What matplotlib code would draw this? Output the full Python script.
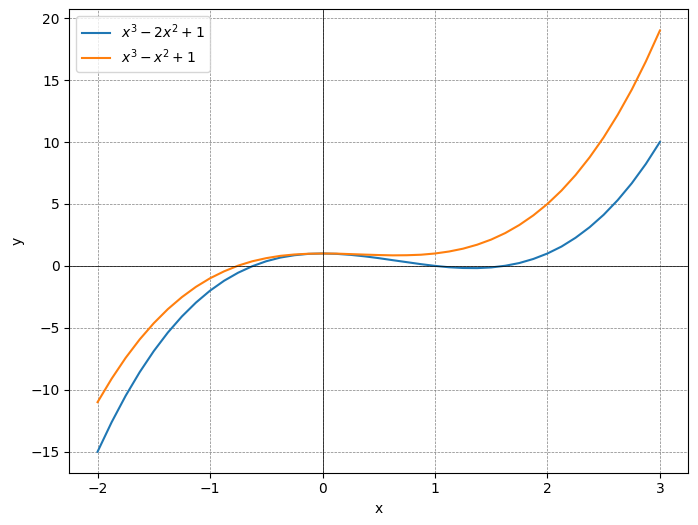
import matplotlib.pyplot as plt

# valores
x = [-2.0, -1.875, -1.75, -1.625, -1.5, -1.375, -1.25, -1.125, -1.0, -0.875,
     -0.75, -0.625, -0.5, -0.375, -0.25, -0.125, 0.0, 0.125, 0.25, 0.375,
     0.5, 0.625, 0.75, 0.875, 1.0, 1.125, 1.25, 1.375, 1.5, 1.625,
     1.75, 1.875, 2.0, 2.125, 2.25, 2.375, 2.5, 2.625, 2.75, 2.875, 3.0]

y1 = [-15.0, -12.62, -10.48, -8.57, -6.875, -5.38, -4.08, -2.96, -2.0, -1.20,
      -0.55, -0.03, 0.375, 0.67, 0.86, 0.97, 1.0, 0.97, 0.89, 0.77,
      0.625, 0.46, 0.30, 0.14, 0.0, -0.11, -0.17, -0.18, -0.125, 0.01,
      0.23, 0.56, 1.0, 1.56, 2.27, 3.12, 4.125, 5.31, 6.67, 8.23, 10.0]

y2 = [-11.0, -9.11, -7.42, -5.93, -4.625, -3.49, -2.52, -1.69, -1.0, -0.44,
      0.02, 0.37, 0.625, 0.81, 0.92, 0.98, 1.0, 0.99, 0.95, 0.91,
      0.875, 0.85, 0.86, 0.90, 1.0, 1.16, 1.39, 1.71, 2.125, 2.65,
      3.30, 4.08, 5.0, 6.08, 7.33, 8.76, 10.375, 12.20, 14.23, 16.50, 19.0]

fig = plt.figure(figsize=(6.98, 5.25), dpi=100)
plt.subplots_adjust(left=0.0995, right=0.9857, bottom=0.0995, top=0.982)

plt.plot(x, y1, label=r'$x^3 - 2x^2 + 1$')
plt.plot(x, y2, label=r'$x^3 - x^2 + 1$')
plt.axhline(0, color='black', linewidth=0.5)
plt.axvline(0, color='black', linewidth=0.5)
plt.xlabel('x')
plt.ylabel('y')
plt.grid(True, color='gray', linestyle='--', linewidth=0.5)
plt.legend()

plt.savefig('out.png', dpi=100)
